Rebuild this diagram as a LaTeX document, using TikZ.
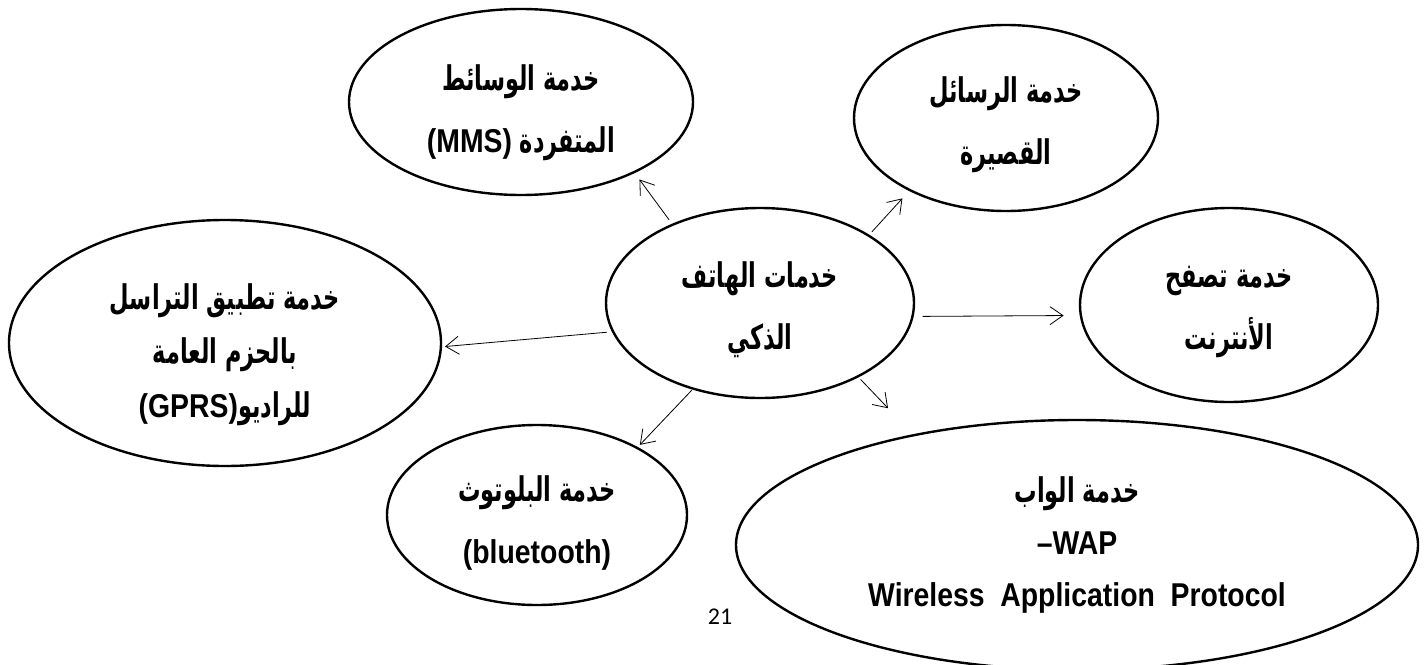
\documentclass[tikz,border=0pt]{standalone}
\usepackage{fontspec}
\setmainfont[FakeStretch=0.86]{Liberation Sans}
\newfontfamily\arabicfont[Script=Arabic,FakeStretch=0.66]{DejaVu Sans}
\newfontfamily\pagefont{Carlito}
\TeXXeTstate=1
\usepackage{tikz}
\usetikzlibrary{shapes.geometric,arrows.meta}

\newcommand{\arsize}{\arabicfont\bfseries\fontsize{34pt}{62pt}\selectfont}
\newcommand{\latsize}{\normalfont\bfseries\fontsize{33pt}{62pt}\selectfont}

\tikzset{
    service/.style={draw, ellipse, line width=2.4pt, inner sep=0pt},
    words/.style={align=center, inner sep=0pt, yshift=-#1,
        font=\bfseries\fontsize{33pt}{62pt}\selectfont},
    tight/.style={font=\bfseries\fontsize{33pt}{#1}\selectfont},
    link/.style={-{Straight Barb[length=13pt,width=18pt]}, line width=0.8pt},
}

\begin{document}
\begin{tikzpicture}[x=1pt,y=-1pt]
    \useasboundingbox (0,0) rectangle (1426,664);

    \node[service,minimum width=308pt,minimum height=190pt,
        label={[words=7pt]center:{{\arsize\beginR خدمات الهاتف\endR}\\{\arsize\beginR الذكي\endR}}}] (phone) at (760,303) {};
    \node[service,minimum width=344pt,minimum height=186pt,
        label={[words=11pt]center:{{\arsize\beginR خدمة الوسائط\endR}\\{\arsize\beginR المتفردة \beginL{\latsize(MMS)}\endL\endR}}}] (mms) at (521,102) {};
    \node[service,minimum width=304pt,minimum height=186pt,
        label={[words=7pt]center:{{\arsize\beginR خدمة الرسائل\endR}\\{\arsize\beginR القصيرة\endR}}}] (sms) at (1006,118) {};
    \node[service,minimum width=298pt,minimum height=194pt,
        label={[words=7pt]center:{{\arsize\beginR خدمة تصفح\endR}\\{\arsize\beginR الأنترنت\endR}}}] (web) at (1229,305) {};
    \node[service,minimum width=432pt,minimum height=246pt,
        label={[words=12pt,tight=54pt]center:{{\arsize\beginR خدمة تطبيق التراسل\endR}\\{\arsize\beginR بالحزم العامة\endR}\\{\arsize\beginR للراديو\beginL{\latsize(GPRS)}\endL\endR}}}] (gprs) at (225,343) {};
    \node[service,minimum width=300pt,minimum height=180pt,
        label={[words=8pt]center:{{\arsize\beginR خدمة البلوتوث\endR}\\(bluetooth)}}] (bt) at (537,515) {};
    \node[service,minimum width=682pt,minimum height=250pt,
        label={[words=0pt,tight=52pt]center:{{\arsize\beginR خدمة الواب\endR}\\–WAP\\Wireless~~Application~~Protocol}}] (wap) at (1077,545) {};

    \node[font=\pagefont\fontsize{24pt}{24pt}\selectfont] (pagenum) at (720,617) {21};

    \draw[link,shorten <=5pt,shorten >=8pt] (phone.138) -- (mms.-32);
    \draw[link,shorten <=4pt,shorten >=10pt] (phone.32) -- (sms.217);
    \draw[link,shorten <=9pt,shorten >=16pt] (phone.-5) -- (web.184);
    \draw[link,shorten <=5pt,shorten >=3pt] (phone.191) -- (gprs.-1);
    \draw[link,shorten <=1pt,shorten >=3pt] (phone.-128) -- (bt.34);
    \draw[link,shorten <=3pt,shorten >=36pt] (phone.-37) -- (wap.146);
\end{tikzpicture}
\end{document}
